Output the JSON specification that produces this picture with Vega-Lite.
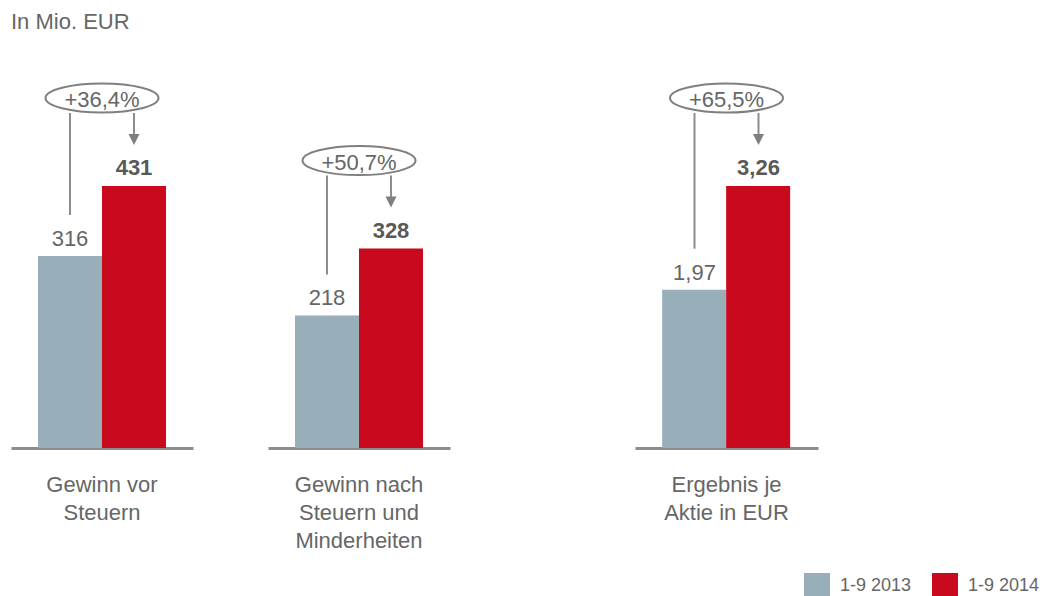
{
  "$schema": "https://vega.github.io/schema/vega-lite/v6.json",
  "padding": {"left": 11, "top": 11, "right": 0, "bottom": 0},
  "background": "white",
  "config": {
    "font": "Liberation Sans",
    "view": {"stroke": null},
    "locale": {"number": {"decimal": ",", "thousands": ".", "grouping": [3], "currency": ["", " €"]}},
    "axisX": {
      "title": null, "ticks": false, "labelAngle": 0, "labelLimit": 0,
      "domainColor": "#8c8c8c", "domainWidth": 3,
      "labelFontSize": 22, "labelColor": "#666666", "labelFont": "Liberation Sans",
      "labelLineHeight": 28, "labelPadding": 26, "labelBaseline": "top",
      "labelExpr": "split(datum.label, '|')"
    },
    "legend": {
      "orient": "none", "direction": "horizontal", "legendX": 793, "legendY": 517,
      "title": null, "symbolType": "square", "symbolSize": 676, "symbolStrokeWidth": 0,
      "labelFontSize": 18, "labelColor": "#666666", "labelFont": "Liberation Sans",
      "columnPadding": 20, "labelOffset": 10, "padding": 0, "symbolOpacity": 1
    }
  },
  "title": {"text": "In Mio. EUR", "anchor": "start", "frame": "group", "fontSize": 22, "fontWeight": "normal", "font": "Liberation Sans", "color": "#666666", "offset": 22},
  "datasets": {
    "kpi": [
      {"cat": "Gewinn vor|Steuern", "panel": 1, "1-9 2013": 316, "1-9 2014": 431, "chg": "+36,4%"},
      {"cat": "Gewinn nach|Steuern und|Minderheiten", "panel": 2, "1-9 2013": 218, "1-9 2014": 328, "chg": "+50,7%"},
      {"cat": "Ergebnis je|Aktie in EUR", "panel": 3, "1-9 2013": 1.97, "1-9 2014": 3.26, "chg": "+65,5%"}
    ]
  },
  "data": {"name": "kpi"},
  "spacing": 185,
  "hconcat": [
    {
      "spacing": 75,
      "hconcat": [
        {
          "width": 182, "height": 392,
          "transform": [{"filter": "datum.panel == 1"}],
          "encoding": {"x": {"field": "cat", "type": "nominal", "scale": {"paddingInner": 0, "paddingOuter": 0.211}}},
          "layer": [
            {"transform": [{"fold": ["1-9 2013", "1-9 2014"], "as": ["series", "value"]}],
             "mark": {"type": "bar"},
             "encoding": {
               "xOffset": {"field": "series", "type": "nominal", "scale": {"paddingInner": 0, "paddingOuter": 0}},
               "y": {"field": "value", "type": "quantitative", "scale": {"domain": [0, 644.8], "nice": false}, "axis": null},
               "color": {"field": "series", "type": "nominal", "scale": {"domain": ["1-9 2013", "1-9 2014"], "range": ["#98aeb9", "#c8091e"]}}
             }},
            {"mark": {"type": "text", "xOffset": -32, "dy": -10, "baseline": "alphabetic", "fontSize": 22, "color": "#666666"},
             "encoding": {"y": {"field": "1-9 2013", "type": "quantitative", "scale": {"domain": [0, 644.8], "nice": false}, "axis": null},
                          "text": {"field": "1-9 2013", "type": "quantitative", "format": "d"}}},
            {"mark": {"type": "text", "xOffset": 32, "dy": -11, "baseline": "alphabetic", "fontSize": 22, "fontWeight": "bold", "color": "#595959"},
             "encoding": {"y": {"field": "1-9 2014", "type": "quantitative", "scale": {"domain": [0, 644.8], "nice": false}, "axis": null},
                          "text": {"field": "1-9 2014", "type": "quantitative", "format": "d"}}},
            {"mark": {"type": "rule", "xOffset": -32, "yOffset": -73, "y2Offset": -41, "color": "#8c8c8c", "strokeWidth": 2},
             "encoding": {"y": {"field": "1-9 2014", "type": "quantitative", "scale": {"domain": [0, 644.8], "nice": false}, "axis": null},
                          "y2": {"field": "1-9 2013"}}},
            {"mark": {"type": "rule", "xOffset": 32, "yOffset": -73, "y2Offset": -51, "color": "#8c8c8c", "strokeWidth": 2},
             "encoding": {"y": {"field": "1-9 2014", "type": "quantitative", "scale": {"domain": [0, 644.8], "nice": false}, "axis": null},
                          "y2": {"field": "1-9 2014"}}},
            {"mark": {"type": "point", "shape": "M-1,-1L1,-1L0,1Z", "size": 121, "filled": true, "opacity": 1, "color": "#7f7f7f", "xOffset": 32, "yOffset": -46.5},
             "encoding": {"y": {"field": "1-9 2014", "type": "quantitative", "scale": {"domain": [0, 644.8], "nice": false}, "axis": null}}},
            {"mark": {"type": "point", "shape": "M-1,0A1,0.257,0,0,1,1,0A1,0.257,0,0,1,-1,0Z", "size": 12769, "fill": "#ffffff", "stroke": "#7f7f7f", "strokeWidth": 2, "opacity": 1, "yOffset": -88},
             "encoding": {"y": {"field": "1-9 2014", "type": "quantitative", "scale": {"domain": [0, 644.8], "nice": false}, "axis": null}}},
            {"mark": {"type": "text", "dy": -86, "baseline": "middle", "fontSize": 22, "color": "#666666"},
             "encoding": {"y": {"field": "1-9 2014", "type": "quantitative", "scale": {"domain": [0, 644.8], "nice": false}, "axis": null},
                          "text": {"field": "chg", "type": "nominal"}}}
          ]
        },
        {
          "width": 182, "height": 392,
          "transform": [{"filter": "datum.panel == 2"}],
          "encoding": {"x": {"field": "cat", "type": "nominal", "scale": {"paddingInner": 0, "paddingOuter": 0.211}}},
          "layer": [
            {"transform": [{"fold": ["1-9 2013", "1-9 2014"], "as": ["series", "value"]}],
             "mark": {"type": "bar"},
             "encoding": {
               "xOffset": {"field": "series", "type": "nominal", "scale": {"paddingInner": 0, "paddingOuter": 0}},
               "y": {"field": "value", "type": "quantitative", "scale": {"domain": [0, 644.8], "nice": false}, "axis": null},
               "color": {"field": "series", "type": "nominal", "scale": {"domain": ["1-9 2013", "1-9 2014"], "range": ["#98aeb9", "#c8091e"]}}
             }},
            {"mark": {"type": "text", "xOffset": -32, "dy": -10, "baseline": "alphabetic", "fontSize": 22, "color": "#666666"},
             "encoding": {"y": {"field": "1-9 2013", "type": "quantitative", "scale": {"domain": [0, 644.8], "nice": false}, "axis": null},
                          "text": {"field": "1-9 2013", "type": "quantitative", "format": "d"}}},
            {"mark": {"type": "text", "xOffset": 32, "dy": -11, "baseline": "alphabetic", "fontSize": 22, "fontWeight": "bold", "color": "#595959"},
             "encoding": {"y": {"field": "1-9 2014", "type": "quantitative", "scale": {"domain": [0, 644.8], "nice": false}, "axis": null},
                          "text": {"field": "1-9 2014", "type": "quantitative", "format": "d"}}},
            {"mark": {"type": "rule", "xOffset": -32, "yOffset": -73, "y2Offset": -41, "color": "#8c8c8c", "strokeWidth": 2},
             "encoding": {"y": {"field": "1-9 2014", "type": "quantitative", "scale": {"domain": [0, 644.8], "nice": false}, "axis": null},
                          "y2": {"field": "1-9 2013"}}},
            {"mark": {"type": "rule", "xOffset": 32, "yOffset": -73, "y2Offset": -51, "color": "#8c8c8c", "strokeWidth": 2},
             "encoding": {"y": {"field": "1-9 2014", "type": "quantitative", "scale": {"domain": [0, 644.8], "nice": false}, "axis": null},
                          "y2": {"field": "1-9 2014"}}},
            {"mark": {"type": "point", "shape": "M-1,-1L1,-1L0,1Z", "size": 121, "filled": true, "opacity": 1, "color": "#7f7f7f", "xOffset": 32, "yOffset": -46.5},
             "encoding": {"y": {"field": "1-9 2014", "type": "quantitative", "scale": {"domain": [0, 644.8], "nice": false}, "axis": null}}},
            {"mark": {"type": "point", "shape": "M-1,0A1,0.257,0,0,1,1,0A1,0.257,0,0,1,-1,0Z", "size": 12769, "fill": "#ffffff", "stroke": "#7f7f7f", "strokeWidth": 2, "opacity": 1, "yOffset": -88},
             "encoding": {"y": {"field": "1-9 2014", "type": "quantitative", "scale": {"domain": [0, 644.8], "nice": false}, "axis": null}}},
            {"mark": {"type": "text", "dy": -86, "baseline": "middle", "fontSize": 22, "color": "#666666"},
             "encoding": {"y": {"field": "1-9 2014", "type": "quantitative", "scale": {"domain": [0, 644.8], "nice": false}, "axis": null},
                          "text": {"field": "chg", "type": "nominal"}}}
          ]
        }
      ]
    },
    {
      "width": 183, "height": 392,
      "transform": [{"filter": "datum.panel == 3"}],
      "encoding": {"x": {"field": "cat", "type": "nominal", "scale": {"paddingInner": 0, "paddingOuter": 0.211}}},
      "layer": [
        {"transform": [{"fold": ["1-9 2013", "1-9 2014"], "as": ["series", "value"]}],
         "mark": {"type": "bar"},
         "encoding": {
           "xOffset": {"field": "series", "type": "nominal", "scale": {"paddingInner": 0, "paddingOuter": 0}},
           "y": {"field": "value", "type": "quantitative", "scale": {"domain": [0, 4.878], "nice": false}, "axis": null},
           "color": {"field": "series", "type": "nominal", "scale": {"domain": ["1-9 2013", "1-9 2014"], "range": ["#98aeb9", "#c8091e"]}}
         }},
        {"mark": {"type": "text", "xOffset": -32, "dy": -10, "baseline": "alphabetic", "fontSize": 22, "color": "#666666"},
         "encoding": {"y": {"field": "1-9 2013", "type": "quantitative", "scale": {"domain": [0, 4.878], "nice": false}, "axis": null},
                      "text": {"field": "1-9 2013", "type": "quantitative", "format": ".2f"}}},
        {"mark": {"type": "text", "xOffset": 32, "dy": -11, "baseline": "alphabetic", "fontSize": 22, "fontWeight": "bold", "color": "#595959"},
         "encoding": {"y": {"field": "1-9 2014", "type": "quantitative", "scale": {"domain": [0, 4.878], "nice": false}, "axis": null},
                      "text": {"field": "1-9 2014", "type": "quantitative", "format": ".2f"}}},
        {"mark": {"type": "rule", "xOffset": -32, "yOffset": -73, "y2Offset": -41, "color": "#8c8c8c", "strokeWidth": 2},
         "encoding": {"y": {"field": "1-9 2014", "type": "quantitative", "scale": {"domain": [0, 4.878], "nice": false}, "axis": null},
                      "y2": {"field": "1-9 2013"}}},
        {"mark": {"type": "rule", "xOffset": 32, "yOffset": -73, "y2Offset": -51, "color": "#8c8c8c", "strokeWidth": 2},
         "encoding": {"y": {"field": "1-9 2014", "type": "quantitative", "scale": {"domain": [0, 4.878], "nice": false}, "axis": null},
                      "y2": {"field": "1-9 2014"}}},
        {"mark": {"type": "point", "shape": "M-1,-1L1,-1L0,1Z", "size": 121, "filled": true, "opacity": 1, "color": "#7f7f7f", "xOffset": 32, "yOffset": -46.5},
         "encoding": {"y": {"field": "1-9 2014", "type": "quantitative", "scale": {"domain": [0, 4.878], "nice": false}, "axis": null}}},
        {"mark": {"type": "point", "shape": "M-1,0A1,0.257,0,0,1,1,0A1,0.257,0,0,1,-1,0Z", "size": 12769, "fill": "#ffffff", "stroke": "#7f7f7f", "strokeWidth": 2, "opacity": 1, "yOffset": -88},
         "encoding": {"y": {"field": "1-9 2014", "type": "quantitative", "scale": {"domain": [0, 4.878], "nice": false}, "axis": null}}},
        {"mark": {"type": "text", "dy": -86, "baseline": "middle", "fontSize": 22, "color": "#666666"},
         "encoding": {"y": {"field": "1-9 2014", "type": "quantitative", "scale": {"domain": [0, 4.878], "nice": false}, "axis": null},
                      "text": {"field": "chg", "type": "nominal"}}}
      ]
    }
  ]
}
